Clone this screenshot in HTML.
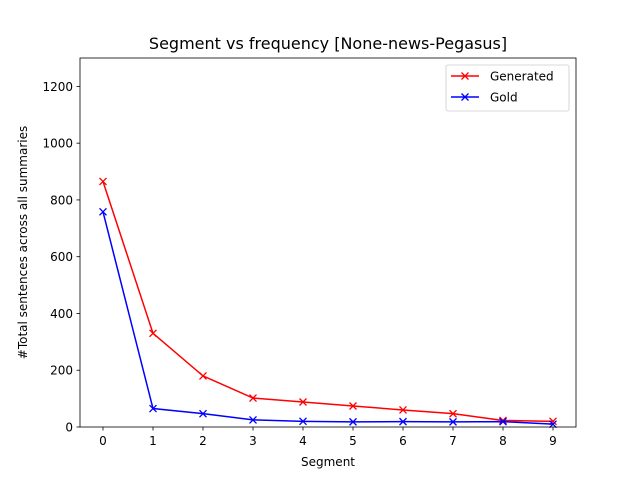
<!DOCTYPE html>
<html><head><meta charset="utf-8"><style>
body{margin:0;background:#fff;font-family:"Liberation Sans","DejaVu Sans",sans-serif;}
svg text{font-family:"DejaVu Sans","Liberation Sans",sans-serif;}
</style></head><body>
<svg id="chart" width="640" height="480" xmlns="http://www.w3.org/2000/svg"></svg>
<script>
const categories = [0,1,2,3,4,5,6,7,8,9];
const generatedValues = [865,330,180,102,88,74,60,47,23,20];
const goldValues = [758,65,47,25,20,18,19,18,19,10];
const yTicks = [0,200,400,600,800,1000,1200];
const seriesNames = ["Generated","Gold"];

const L=80,R=576,T=58,B=427;
const xMin=-0.46,xMax=9.46,yMin=0,yMax=1300;
const xs=v=>L+(v-xMin)/(xMax-xMin)*(R-L);
const ys=v=>B-(v-yMin)/(yMax-yMin)*(B-T);
const svg=document.getElementById('chart');
const NS="http://www.w3.org/2000/svg";
function mk(tag,attrs,parent){const e=document.createElementNS(NS,tag);for(const k in attrs)e.setAttribute(k,attrs[k]);(parent||svg).appendChild(e);return e;}

const title=mk('text',{x:(L+R)/2,y:49,'text-anchor':'middle','font-size':16,fill:'#000'});


title.textContent='Segment vs frequency [None-news-Pegasus]';

categories.forEach(c=>{
  const g=mk('g',{});
  
  
  mk('line',{x1:xs(c),x2:xs(c),y1:B,y2:B+3.5,stroke:'#000','stroke-width':0.8},g);
  const t=mk('text',{x:xs(c),y:B+18,'text-anchor':'middle','font-size':12},g);
  t.textContent=c;
});
yTicks.forEach(v=>{
  const g=mk('g',{});
  
  
  mk('line',{x1:L-3.5,x2:L,y1:ys(v),y2:ys(v),stroke:'#000','stroke-width':0.8},g);
  const t=mk('text',{x:L-7,y:ys(v)+4.5,'text-anchor':'end','font-size':12},g);
  t.textContent=v;
});
const xl=mk('text',{x:(L+R)/2,y:466,'text-anchor':'middle','font-size':12});


xl.textContent='Segment';
const yl=mk('text',{x:0,y:0,'text-anchor':'middle','font-size':12,transform:`translate(27,${(T+B)/2}) rotate(-90)`});


yl.textContent='#Total sentences across all summaries';

function series(vals,color,name){
  const g=mk('g',{});
  
  
  mk('polyline',{points:vals.map((v,i)=>xs(categories[i])+','+ys(v)).join(' '),fill:'none',stroke:color,'stroke-width':1.5},g);
  vals.forEach((v,i)=>{
    const x=xs(categories[i]),y=ys(v),s=3.5;
    const p=mk('path',{d:`M${x-s},${y-s}L${x+s},${y+s}M${x-s},${y+s}L${x+s},${y-s}`,stroke:color,'stroke-width':1.3},g);
    
    
  });
}
series(generatedValues,'#ff0000','generated');
series(goldValues,'#0000ff','gold');

const frame=mk('rect',{x:L,y:T,width:R-L,height:B-T,fill:'none',stroke:'#000','stroke-width':0.8});



const lg=mk('g',{});


mk('rect',{x:446,y:65,width:123,height:46,rx:2,fill:'#fff',stroke:'#ccc','stroke-width':0.8},lg);
[['#ff0000',seriesNames[0],76],['#0000ff',seriesNames[1],97]].forEach(([c,n,y])=>{
  const e=mk('g',{},lg);
  
  
  mk('line',{x1:451,x2:479,y1:y,y2:y,stroke:c,'stroke-width':1.5},e);
  mk('path',{d:`M461.5,${y-3.5}L468.5,${y+3.5}M461.5,${y+3.5}L468.5,${y-3.5}`,stroke:c,'stroke-width':1.3},e);
  const t=mk('text',{x:490,y:y+4.5,'font-size':12},e);
  t.textContent=n;
});
</script>
</body></html>
